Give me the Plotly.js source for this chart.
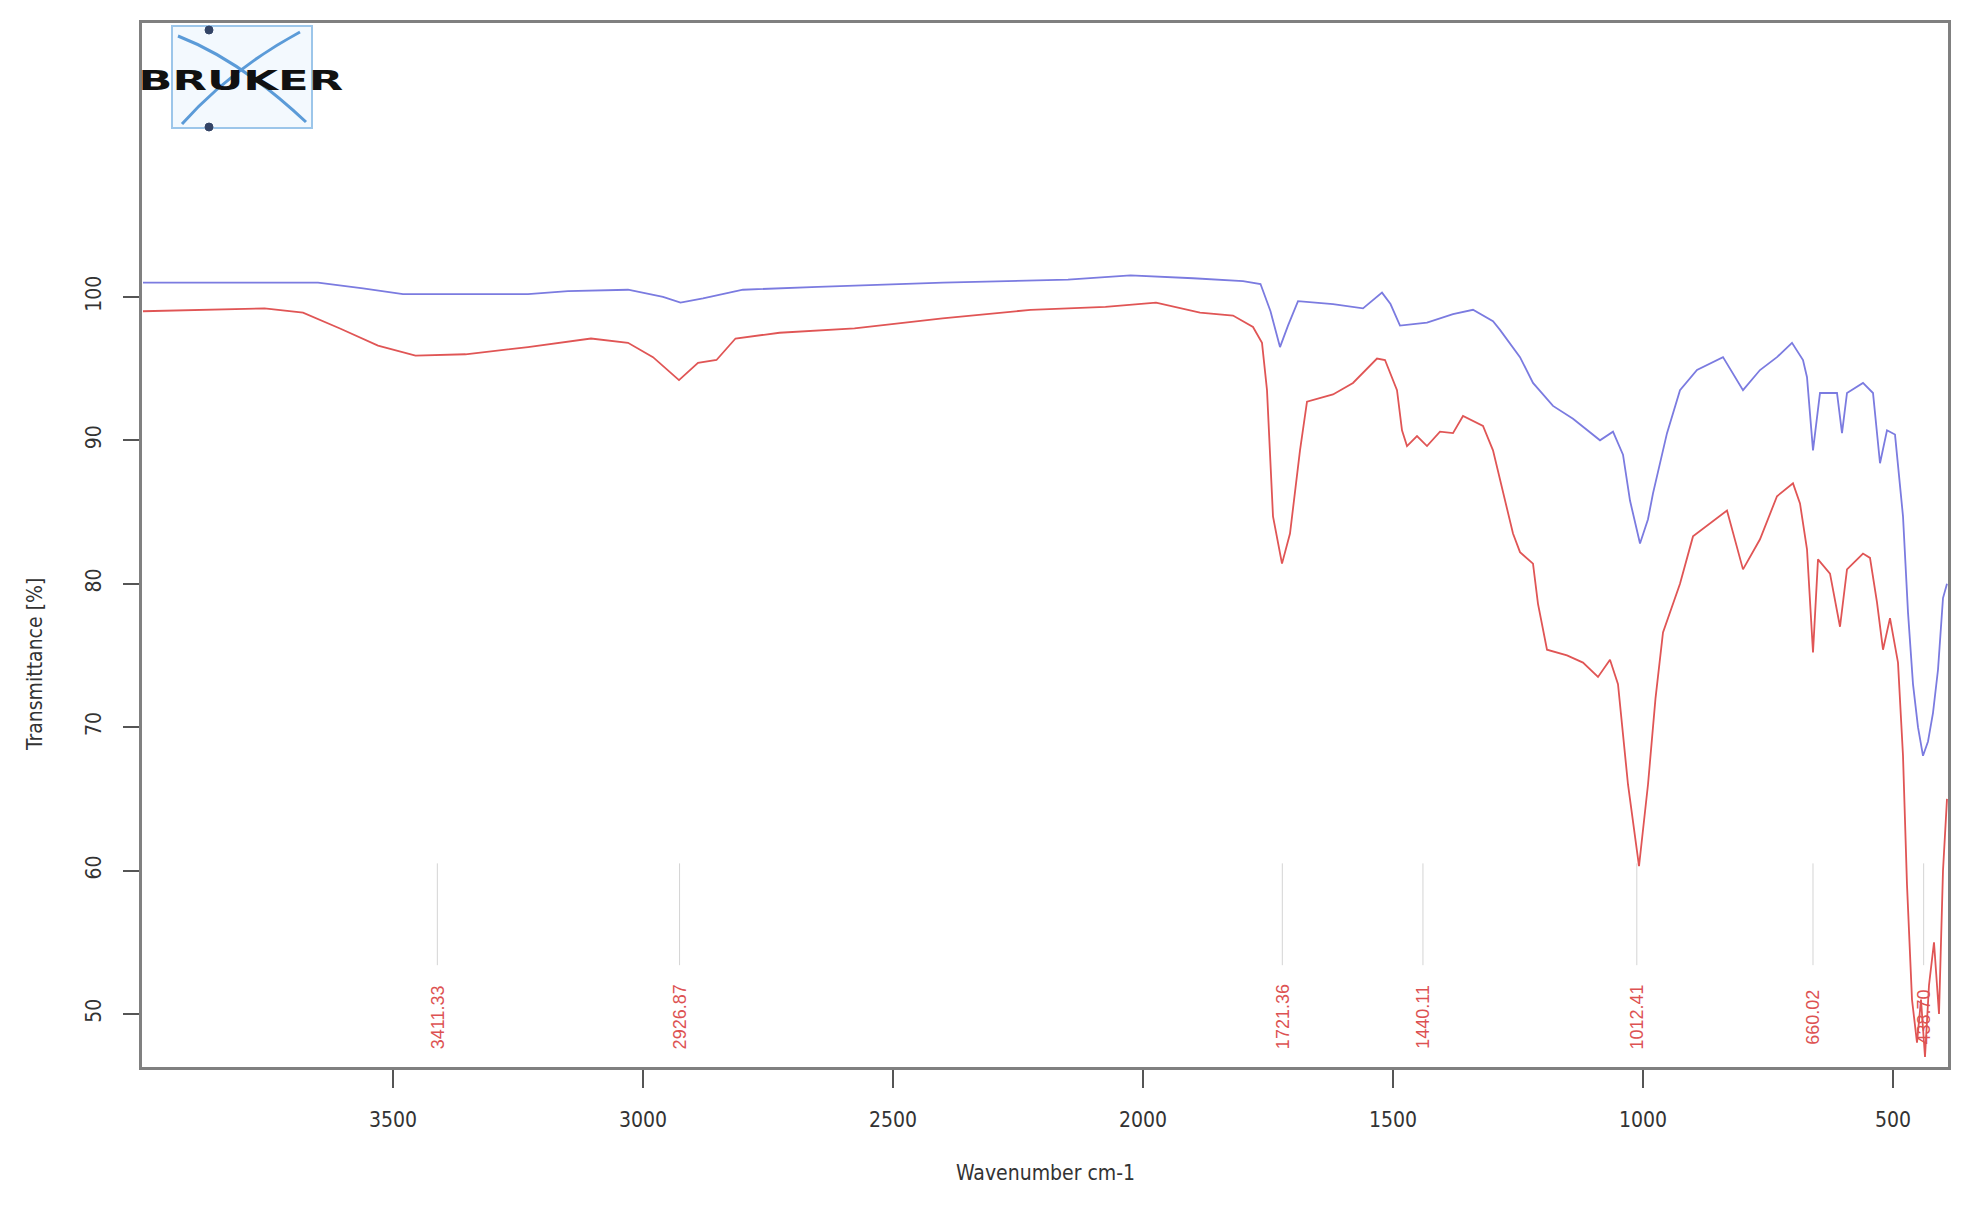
<!DOCTYPE html>
<html>
<head>
<meta charset="utf-8">
<script src="https://cdn.plot.ly/plotly-3.0.1.min.js"></script>
<style>
  html, body { margin: 0; padding: 0; background: #ffffff; }
  #chart { width: 1968px; height: 1205px; }
</style>
</head>
<body>
<div id="chart"></div>
<script>
// ---- Data ----
const blueWavenumber = [4000,3800,3650,3560,3480,3350,3230,3150,3030,2960,2925,2880,2800,2650,2400,2150,2025,1900,1800,1765,1745,1726,1710,1690,1620,1560,1522,1505,1486,1432,1380,1340,1300,1286,1246,1220,1180,1140,1100,1086,1060,1040,1026,1006,990,980,952,926,892,840,800,766,732,702,680,672,660,646,612,602,592,560,540,526,512,496,480,470,460,450,440,430,420,410,400,392];
const blueTransmittance = [101.0,101.0,101.0,100.6,100.2,100.2,100.2,100.4,100.5,100.0,99.6,99.9,100.5,100.7,101.0,101.2,101.5,101.3,101.1,100.9,99.0,96.5,98.0,99.7,99.5,99.2,100.3,99.5,98.0,98.2,98.8,99.1,98.3,97.7,95.8,94.0,92.4,91.5,90.4,90.0,90.6,89.0,85.8,82.8,84.5,86.3,90.5,93.5,94.9,95.8,93.5,94.9,95.8,96.8,95.6,94.4,89.3,93.3,93.3,90.5,93.3,94.0,93.3,88.4,90.7,90.4,84.7,78.0,73.0,70.0,68.0,69.0,71.0,74.0,79.0,80.0];

const redWavenumber = [4000,3850,3757,3680,3606,3530,3455,3355,3230,3104,3030,2980,2928,2890,2853,2815,2727,2577,2401,2225,2075,1974,1886,1820,1780,1762,1752,1740,1722,1706,1686,1672,1620,1580,1532,1516,1492,1482,1472,1452,1432,1406,1380,1360,1320,1300,1260,1246,1220,1210,1192,1152,1120,1090,1066,1050,1030,1008,990,975,960,926,900,832,800,766,732,700,686,672,660,650,626,606,592,560,546,532,520,506,490,480,472,462,452,444,436,428,418,408,400,392];
const redTransmittance = [99.0,99.1,99.2,98.9,97.8,96.6,95.9,96.0,96.5,97.1,96.8,95.8,94.2,95.4,95.6,97.1,97.5,97.8,98.5,99.1,99.3,99.6,98.9,98.7,97.9,96.8,93.5,84.7,81.4,83.5,89.3,92.7,93.2,94.0,95.7,95.6,93.5,90.7,89.6,90.3,89.6,90.6,90.5,91.7,91.0,89.3,83.5,82.2,81.4,78.6,75.4,75.0,74.5,73.5,74.7,73.0,66.0,60.3,66.0,72.0,76.6,80.0,83.3,85.1,81.0,83.1,86.1,87.0,85.6,82.4,75.2,81.7,80.7,77.0,81.0,82.1,81.8,78.7,75.4,77.6,74.5,68.0,59.0,51.0,48.0,51.0,47.0,52.0,55.0,50.0,60.0,65.0];

const peakPositions = [3411.33, 2926.87, 1721.36, 1440.11, 1012.41, 660.02, 438.70];
const peakLabels = ["3411.33", "2926.87", "1721.36", "1440.11", "1012.41", "660.02", "438.70"];

const xTickValues = [3500, 3000, 2500, 2000, 1500, 1000, 500];
const xTickLabels = ["3500", "3000", "2500", "2000", "1500", "1000", "500"];
const yTickValues = [50, 60, 70, 80, 90, 100];
const yTickLabels = ["50", "60", "70", "80", "90", "100"];

// ---- Layout geometry ----
const W = 1968, H = 1205;
const M = { l: 142, r: 20, t: 23, b: 138 };
const PW = W - M.l - M.r, PH = H - M.t - M.b;
const px = X => (X - M.l) / PW;
const py = Y => (H - M.b - Y) / PH;

// peak marker stems
const stemX = [], stemY = [];
peakPositions.forEach(p => { stemX.push(p, p, null); stemY.push(60.5, 53.4, null); });

const traces = [
  { x: stemX, y: stemY, mode: 'lines', line: { color: '#d4d4d4', width: 1 }, hoverinfo: 'skip', showlegend: false },
  { x: blueWavenumber, y: blueTransmittance, mode: 'lines', line: { color: '#7b7be0', width: 1.8 }, showlegend: false },
  { x: redWavenumber, y: redTransmittance, mode: 'lines', line: { color: '#e05555', width: 1.8 }, showlegend: false }
];

const axisFont = { family: '"Liberation Sans Narrow", "DejaVu Sans Condensed", "Liberation Sans", sans-serif', size: 21, color: '#333333' };

const annotations = peakPositions.map((p, i) => ({
  x: p, y: 49.8, xref: 'x', yref: 'y', text: peakLabels[i], showarrow: false,
  textangle: -90, xanchor: 'center', yanchor: 'middle',
  font: { family: '"Liberation Sans Narrow", "Liberation Sans", sans-serif', size: 18, color: '#dd5252' }
}));

annotations.push({
  x: 0.5, y: py(1173), xref: 'paper', yref: 'paper', text: 'Wavenumber cm-1', showarrow: false,
  xanchor: 'center', yanchor: 'middle', font: axisFont
});
annotations.push({
  x: px(35), y: py(665), xref: 'paper', yref: 'paper', text: 'Transmittance [%]', showarrow: false,
  textangle: -90, xanchor: 'center', yanchor: 'middle', font: axisFont
});
annotations.push({
  x: px(241), y: py(80), xref: 'paper', yref: 'paper', text: '<b>BRUKER</b>', showarrow: false,
  xanchor: 'center', yanchor: 'middle',
  font: { family: '"DejaVu Sans", "Liberation Sans", sans-serif', size: 27, color: '#111111' }
});

const shapes = [
  // logo frame
  { type: 'rect', xref: 'paper', yref: 'paper', x0: px(172), x1: px(312), y0: py(128), y1: py(26),
    line: { color: '#9cc6ea', width: 2 }, fillcolor: 'rgba(220,238,252,0.35)', layer: 'below' },
  // logo orbits
  { type: 'path', xref: 'paper', yref: 'paper',
    path: `M ${px(178)} ${py(36)} Q ${px(240)} ${py(60)} ${px(306)} ${py(122)}`,
    line: { color: '#5b9bd8', width: 3 } },
  { type: 'path', xref: 'paper', yref: 'paper',
    path: `M ${px(300)} ${py(32)} Q ${px(230)} ${py(70)} ${px(182)} ${py(124)}`,
    line: { color: '#5b9bd8', width: 3 } },
  { type: 'circle', xref: 'paper', yref: 'paper', x0: px(205), x1: px(213), y0: py(34), y1: py(26),
    line: { color: '#334466', width: 1 }, fillcolor: '#334466' },
  { type: 'circle', xref: 'paper', yref: 'paper', x0: px(205), x1: px(213), y0: py(131), y1: py(123),
    line: { color: '#334466', width: 1 }, fillcolor: '#334466' }
];

const layout = {
  width: W, height: H,
  margin: M,
  paper_bgcolor: '#ffffff', plot_bgcolor: '#ffffff',
  showlegend: false,
  xaxis: {
    range: [4002, 390], tickmode: 'array', tickvals: xTickValues, ticktext: xTickLabels,
    showgrid: false, zeroline: false, showline: true, mirror: true, linecolor: '#808080', linewidth: 3,
    ticks: 'outside', ticklen: 18, tickwidth: 2, tickcolor: '#555555', ticklabelstandoff: 14,
    tickfont: axisFont
  },
  yaxis: {
    range: [46.3, 119.1], tickmode: 'array', tickvals: yTickValues, ticktext: yTickLabels,
    showgrid: false, zeroline: false, showline: true, mirror: true, linecolor: '#808080', linewidth: 3,
    ticks: 'outside', ticklen: 16, tickwidth: 2, tickcolor: '#555555', tickangle: -90, ticklabelstandoff: 14,
    tickfont: axisFont
  },
  annotations: annotations,
  shapes: shapes
};

Plotly.newPlot('chart', traces, layout, { staticPlot: true }).then(() => {
  document.querySelectorAll('.annotation-text').forEach(t => {
    if (t.textContent === 'BRUKER') {
      t.setAttribute('textLength', '205');
      t.setAttribute('lengthAdjust', 'spacingAndGlyphs');
    }
  });
});
</script>
</body>
</html>
